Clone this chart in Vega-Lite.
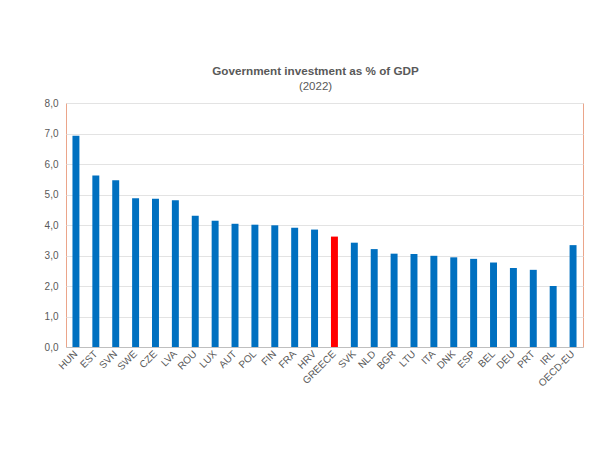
{
  "$schema": "https://vega.github.io/schema/vega-lite/v6.json",
  "autosize": {"type": "none"},
  "width": 517,
  "height": 244,
  "padding": {"left": 66, "top": 103, "right": 26, "bottom": 112},
  "background": "white",
  "title": {
    "text": "Government investment as % of GDP",
    "subtitle": "(2022)",
    "anchor": "middle",
    "dx": -9,
    "font": "Liberation Sans",
    "fontSize": 11.7,
    "fontWeight": "bold",
    "color": "#595959",
    "subtitleFont": "Liberation Sans",
    "subtitleFontSize": 11.5,
    "subtitleColor": "#595959",
    "subtitlePadding": 3,
    "offset": 6
  },
  "data": {
    "values": [
      {"country": "HUN", "value": 6.93, "group": "other"},
      {"country": "EST", "value": 5.62, "group": "other"},
      {"country": "SVN", "value": 5.47, "group": "other"},
      {"country": "SWE", "value": 4.88, "group": "other"},
      {"country": "CZE", "value": 4.86, "group": "other"},
      {"country": "LVA", "value": 4.81, "group": "other"},
      {"country": "ROU", "value": 4.30, "group": "other"},
      {"country": "LUX", "value": 4.14, "group": "other"},
      {"country": "AUT", "value": 4.04, "group": "other"},
      {"country": "POL", "value": 4.01, "group": "other"},
      {"country": "FIN", "value": 3.99, "group": "other"},
      {"country": "FRA", "value": 3.91, "group": "other"},
      {"country": "HRV", "value": 3.85, "group": "other"},
      {"country": "GREECE", "value": 3.62, "group": "greece"},
      {"country": "SVK", "value": 3.42, "group": "other"},
      {"country": "NLD", "value": 3.21, "group": "other"},
      {"country": "BGR", "value": 3.06, "group": "other"},
      {"country": "LTU", "value": 3.05, "group": "other"},
      {"country": "ITA", "value": 2.99, "group": "other"},
      {"country": "DNK", "value": 2.94, "group": "other"},
      {"country": "ESP", "value": 2.89, "group": "other"},
      {"country": "BEL", "value": 2.77, "group": "other"},
      {"country": "DEU", "value": 2.59, "group": "other"},
      {"country": "PRT", "value": 2.53, "group": "other"},
      {"country": "IRL", "value": 2.00, "group": "other"},
      {"country": "OECD-EU", "value": 3.34, "group": "other"}
    ]
  },
  "mark": {"type": "bar"},
  "encoding": {
    "x": {
      "field": "country",
      "type": "nominal",
      "sort": null,
      "scale": {"paddingInner": 0.65, "paddingOuter": 0.325},
      "axis": {
        "title": null,
        "labelAngle": -45,
        "labelAlign": "right",
        "labelBaseline": "middle",
        "labelFont": "Liberation Sans",
        "labelFontSize": 10,
        "labelColor": "#595959",
        "labelPadding": 5,
        "ticks": false,
        "domainColor": "#BFBFBF",
        "domainWidth": 1,
        "grid": false
      }
    },
    "y": {
      "field": "value",
      "type": "quantitative",
      "scale": {"domain": [0, 8], "nice": false},
      "axis": {
        "title": null,
        "values": [0, 1, 2, 3, 4, 5, 6, 7, 8],
        "labelExpr": "replace(format(datum.value, '.1f'), '.', ',')",
        "labelFont": "Liberation Sans",
        "labelFontSize": 10,
        "labelColor": "#595959",
        "labelPadding": 8,
        "ticks": false,
        "domain": false,
        "grid": true,
        "gridColor": "#E3E3E3",
        "gridWidth": 1
      }
    },
    "color": {
      "field": "group",
      "type": "nominal",
      "scale": {"domain": ["other", "greece"], "range": ["#0070C0", "#FF0000"]},
      "legend": null
    }
  },
  "config": {
    "view": {"stroke": "#EBA58A", "strokeWidth": 1}
  }
}
